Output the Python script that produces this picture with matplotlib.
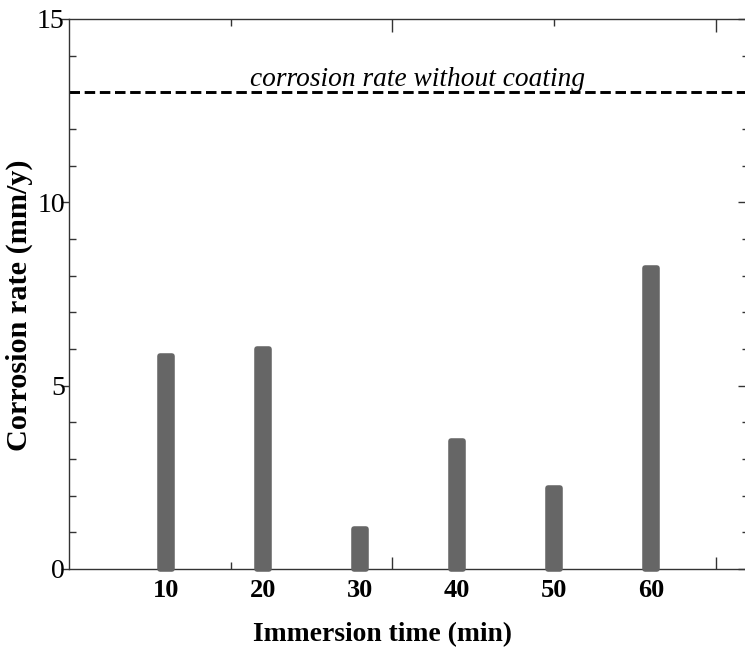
import matplotlib
matplotlib.use("Agg")
import matplotlib.pyplot as plt
from matplotlib.ticker import MultipleLocator, FixedLocator, NullFormatter
import matplotlib.transforms as mtransforms

# data
times = [10, 20, 30, 40, 50, 60]
time_labels = ["10", "20", "30", "40", "50", "60"]
rates = [5.8, 6.0, 1.1, 3.5, 2.2, 8.2]
uncoated_rate = 13.0
ref_label = "corrosion rate without coating"

plt.rcParams['font.family'] = ['Liberation Serif', 'DejaVu Serif']

W, H = 745, 649
fig = plt.figure(figsize=(W / 100, H / 100), dpi=100)
ax = fig.add_axes([69 / W, 1 - 569 / H, (748 - 69) / W, (569 - 19) / H])

bar_color = "#666666"
bars = ax.bar(times, rates, width=1.28, color=bar_color, edgecolor=bar_color,
              linewidth=4, joinstyle='round', zorder=3)
for b in bars:
    b.set_clip_on(False)

ax.axhline(uncoated_rate, color="black", lw=2.1, dashes=(3.6, 1.6), zorder=2)
ax.text(35.93, uncoated_rate + 0.02, ref_label, ha="center", va="bottom",
        fontsize=19.7, style="italic")

ax.set_xlim(0, 70)
ax.set_ylim(0, 15)

for s in ax.spines.values():
    s.set_color("#333333")
    s.set_linewidth(1.0)

# x ticks (unlabelled marks)
ax.xaxis.set_major_locator(FixedLocator([100 / 3, 200 / 3]))
ax.xaxis.set_minor_locator(FixedLocator([50 / 3, 50]))
ax.xaxis.set_major_formatter(NullFormatter())
ax.tick_params(axis='x', which='major', direction='in', length=9, width=1,
               top=True, bottom=True, color="#333333")
ax.tick_params(axis='x', which='minor', direction='in', length=5, width=1,
               top=True, bottom=True, color="#333333")

# x labels under the bars
trans = mtransforms.blended_transform_factory(ax.transData, ax.transAxes)
for t, lab in zip(times, time_labels):
    ax.text(t, -0.039, lab, transform=trans, ha="center", va="center",
            fontsize=19, fontweight="bold")

# y ticks
ax.yaxis.set_major_locator(MultipleLocator(5))
ax.yaxis.set_minor_locator(MultipleLocator(1))
ax.tick_params(axis='y', which='major', direction='out', length=6, width=1,
               labelsize=20, pad=-3, color="#333333")
ax.tick_params(axis='y', which='minor', direction='in', length=5, width=1,
               color="#333333")
ax.tick_params(axis='y', right=False)

sec = ax.secondary_yaxis('right')
sec.yaxis.set_major_locator(MultipleLocator(5))
sec.yaxis.set_minor_locator(MultipleLocator(1))
sec.yaxis.set_major_formatter(NullFormatter())
sec.tick_params(which='major', direction='in', length=7, width=1, color="#333333")
sec.tick_params(which='minor', direction='in', length=4, width=1, color="#333333")
sec.spines['right'].set_color("#333333")

ax.set_xlabel("Immersion time (min)", fontsize=19.9, fontweight="bold")
ax.xaxis.set_label_coords((382 - 69) / 679, -(635 - 569) / 550)
ax.xaxis.label.set_va("center")
ax.set_ylabel("Corrosion rate (mm/y)", fontsize=21.8, fontweight="bold")
ax.yaxis.set_label_coords((33 - 69) / 679, (569 - 305) / 550)

fig.savefig("out.png", dpi=100)
